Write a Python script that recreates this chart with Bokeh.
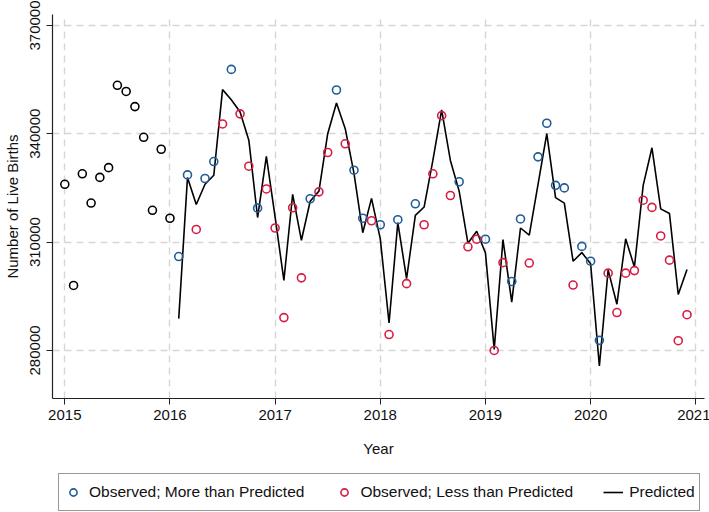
import pandas as pd
from bokeh.plotting import figure
from bokeh.layouts import column
from bokeh.models import (Range1d, FixedTicker, BasicTickFormatter, Legend,
                          LegendItem)
from bokeh.embed import file_html
from bokeh.resources import INLINE

# ---- data ----
# Observed births before the prediction period (Jan 2015 - Jan 2016)
base_months = ["2015-01", "2015-02", "2015-03", "2015-04", "2015-05", "2015-06",
               "2015-07", "2015-08", "2015-09", "2015-10", "2015-11", "2015-12",
               "2016-01"]
base_observed = [326000, 298000, 328900, 320800, 327900, 330600,
                 353400, 351700, 347500, 339000, 318800, 335700,
                 316600]

# Prediction period (Feb 2016 - Dec 2020)
pred_months = [str(d)[:7] for d in pd.date_range("2016-02-01", "2020-12-01", freq="MS")]
observed = [
    306000, 328600, 313500, 327600, 332300, 342700, 357800, 345500, 331000, 319400, 324700,
    313900, 289100, 319500, 300100, 322000, 323900, 334800, 352100, 337200, 329900, 316600, 315900,
    314800, 284400, 316200, 298500, 320600, 314800, 328900, 345000, 322900, 326700, 308700, 310800,
    310800, 280000, 304300, 299100, 316400, 304200, 333600, 342900, 325700, 325000, 298100, 308800,
    304700, 282800, 301400, 290500, 301400, 302100, 321600, 319600, 311700, 305000, 282700, 289900,
]
predicted = [
    288800, 327900, 320400, 326000, 328500, 352200, 349400, 346000, 338200, 316800, 333700,
    316900, 299400, 323200, 310500, 321300, 324100, 340000, 348500, 341400, 329000, 312600, 322100,
    310900, 287600, 315400, 299900, 317400, 319700, 332600, 346600, 332600, 324100, 309700, 313000,
    307000, 280300, 310700, 293400, 313900, 311900, 326000, 340000, 322300, 320800, 304700, 307100,
    304000, 275700, 302300, 292800, 310900, 303100, 325700, 336100, 319200, 317900, 295500, 302400,
]

x_ticks = [2015, 2016, 2017, 2018, 2019, 2020, 2021]
y_ticks = [280000, 310000, 340000, 370000]

BLUE = "#1f5c99"
RED = "#d81b43"
FONT = "Liberation Sans"


def to_year(m):
    y, mo = m.split("-")
    return int(y) + (int(mo) - 1) / 12.0


base_x = [to_year(m) for m in base_months]
pred_x = [to_year(m) for m in pred_months]

more_x = [x for x, o, p_ in zip(pred_x, observed, predicted) if o > p_]
more_y = [o for o, p_ in zip(observed, predicted) if o > p_]
less_x = [x for x, o, p_ in zip(pred_x, observed, predicted) if o <= p_]
less_y = [o for o, p_ in zip(observed, predicted) if o <= p_]

p = figure(frame_width=652, frame_height=384, output_backend="svg", toolbar_location=None,
           x_range=Range1d(2014.883, 2021.083), y_range=Range1d(266700, 373000),
           min_border_left=51, min_border_right=6, min_border_top=14, min_border_bottom=66)
p.outline_line_color = None
p.background_fill_color = "white"
p.border_fill_color = "white"

# grid
for g in (p.xgrid, p.ygrid):
    g.grid_line_color = "#d6d6d6"
    g.grid_line_dash = "7 5"
    g.grid_line_width = 1.4

# axes
p.xaxis.ticker = FixedTicker(ticks=x_ticks)
p.yaxis.ticker = FixedTicker(ticks=y_ticks)
p.yaxis.formatter = BasicTickFormatter(use_scientific=False)
p.yaxis.major_label_orientation = "vertical"
for ax in (p.xaxis, p.yaxis):
    ax.axis_line_color = "#222222"
    ax.axis_line_width = 1.2
    ax.major_tick_line_color = "#222222"
    ax.major_tick_in = 0
    ax.major_tick_out = 6
    ax.minor_tick_line_color = None
    ax.major_label_text_font = FONT
    ax.major_label_text_font_size = "15px"
    ax.major_label_text_color = "#111111"
    ax.axis_label_text_font = FONT
    ax.axis_label_text_font_size = "15px"
    ax.axis_label_text_font_style = "normal"
    ax.axis_label_text_color = "#111111"
p.xaxis.axis_label = "Year"
p.yaxis.axis_label = "Number of Live Births"
p.xaxis.major_label_standoff = 5
p.xaxis.axis_label_standoff = 17
p.yaxis.major_label_standoff = 6
p.yaxis.axis_label_standoff = 7

# glyphs
MARK = dict(marker="circle", fill_color=None, line_width=1.6)
r_line = p.line(pred_x, predicted, line_color="black", line_width=1.6)
r_base = p.scatter(base_x, base_observed, line_color="black", size=8, **MARK)
r_more = p.scatter(more_x, more_y, line_color=BLUE, size=8, **MARK)
r_less = p.scatter(less_x, less_y, line_color=RED, size=8, **MARK)

# ---- legend strip below the plot (hidden copies of the series supply the samples) ----
leg = figure(width=709, height=48, output_backend="svg", toolbar_location=None,
             x_range=Range1d(2014.883, 2021.083), y_range=Range1d(266700, 373000),
             x_axis_type=None, y_axis_type=None,
             min_border_left=0, min_border_right=0, min_border_top=0, min_border_bottom=0)
leg.outline_line_color = None
leg.xgrid.visible = False
leg.ygrid.visible = False
l_more = leg.scatter(more_x, more_y, line_color=BLUE, size=6, visible=False, **MARK)
l_less = leg.scatter(less_x, less_y, line_color=RED, size=6, visible=False, **MARK)
l_line = leg.line(pred_x, predicted, line_color="black", line_width=1.6, visible=False)

legend = Legend(items=[
    LegendItem(label="Observed; More than Predicted", renderers=[l_more]),
    LegendItem(label="Observed; Less than Predicted", renderers=[l_less]),
    LegendItem(label="Predicted", renderers=[l_line]),
], orientation="horizontal", location=(6, 1))
legend.label_text_font = FONT
legend.label_text_font_size = "15.5px"
legend.label_text_color = "#111111"
legend.glyph_width = 20
legend.glyph_height = 18
legend.label_standoff = 6
legend.spacing = 30
legend.padding = 4
legend.label_height = 28
legend.margin = 0
legend.inactive_fill_alpha = 0
legend.border_line_color = "#333333"
legend.border_line_width = 1
legend.background_fill_alpha = 1
leg.add_layout(legend, "center")

layout = column(p, leg, spacing=0)
open("out.html", "w").write(file_html(layout, INLINE))
